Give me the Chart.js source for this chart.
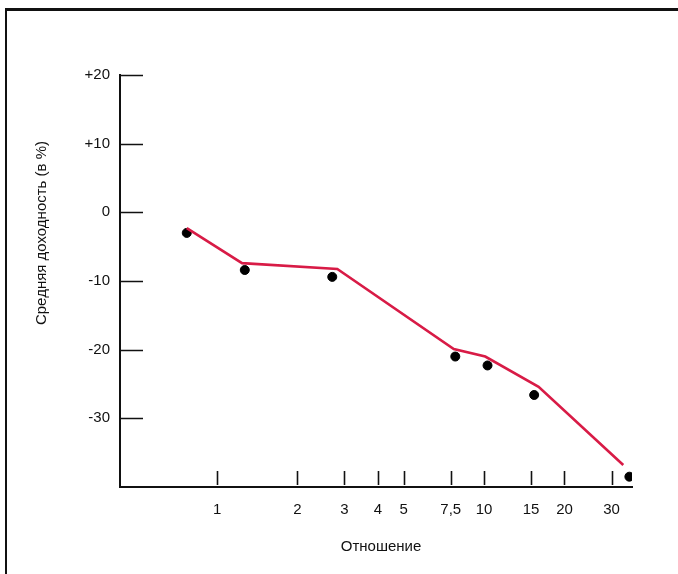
<!DOCTYPE html>
<html>
<head>
<meta charset="utf-8">
<script src="https://cdn.jsdelivr.net/npm/chart.js@4"></script>
<style>
    body { margin: 0; background: #fff; }
    #wrap { position: relative; width: 678px; height: 574px; overflow: hidden; }
    /* page frame: only top and left edges are inside the window */
    #frame { position: absolute; left: 5px; top: 8px; width: 700px; height: 600px;
             border-top: 3px solid #111; border-left: 2px solid #111; }
    #myChart { position: absolute; left: 0; top: 0; }
</style>
</head>
<body>
<div id="wrap">
    <div id="frame"></div>
    <canvas id="myChart" width="678" height="574"></canvas>
</div>
<script>
// observed points
var ratioDots = [0.77, 1.27, 2.7, 7.8, 10.3, 15.4, 35];
var returnDots = [-3.0, -8.4, -9.4, -21.0, -22.3, -26.6, -38.5];

// fitted broken line
var ratioLine = [0.77, 1.24, 2.82, 7.7, 10.1, 16, 33.2];
var returnLine = [-2.3, -7.4, -8.25, -19.9, -21.0, -25.4, -36.8];

// axis ticks
var tickRatios = [1, 2, 3, 4, 5, 7.5, 10, 15, 20, 30];
var tickReturns = [-30, -20, -10, 0, 10, 20];

var FONT = "'Liberation Sans', Arial, sans-serif";
var INK = '#111';

var toPoints = function (xs, ys) {
    return xs.map(function (x, i) { return {x: x, y: ys[i]}; });
};

// tick marks inside the axes and the two axis titles
var axisDecor = {
    id: 'axisDecor',
    beforeDatasetsDraw: function (chart) {
        var ctx = chart.ctx;
        var area = chart.chartArea;
        var xs = chart.scales.x, ys = chart.scales.y;
        ctx.save();
        ctx.strokeStyle = INK;
        ctx.lineWidth = 1.6;
        ctx.beginPath();
        tickReturns.forEach(function (v) {
            var py = Math.round(ys.getPixelForValue(v)) + 0.5;
            ctx.moveTo(area.left, py);
            ctx.lineTo(area.left + 23, py);
        });
        tickRatios.forEach(function (v) {
            var px = Math.round(xs.getPixelForValue(v)) + 0.5;
            ctx.moveTo(px, area.bottom - 16);
            ctx.lineTo(px, area.bottom - 2);
        });
        ctx.stroke();

        ctx.fillStyle = INK;
        ctx.font = '15px ' + FONT;
        ctx.textAlign = 'center';
        ctx.textBaseline = 'middle';
        ctx.fillText('Отношение', 381, 547);
        ctx.translate(42, 233);
        ctx.rotate(-Math.PI / 2);
        ctx.fillText('Средняя доходность (в %)', 0, 0);
        ctx.restore();
    }
};

var ctx = document.getElementById('myChart').getContext('2d');

new Chart(ctx, {
    type: 'scatter',
    data: {
        datasets: [
            {
                data: toPoints(ratioLine, returnLine),
                showLine: true,
                borderColor: '#d81b46',
                borderWidth: 2.6,
                pointRadius: 0,
                tension: 0
            },
            {
                data: toPoints(ratioDots, returnDots),
                backgroundColor: '#000',
                borderColor: '#000',
                pointRadius: 4.5,
                pointHoverRadius: 4.5
            }
        ]
    },
    options: {
        responsive: false,
        animation: false,
        devicePixelRatio: 1,
        layout: { padding: { left: 0, top: 75, right: 46, bottom: 0 } },
        plugins: {
            legend: { display: false },
            tooltip: { enabled: false }
        },
        scales: {
            x: {
                type: 'logarithmic',
                min: 0.433,
                max: 35.8,
                bounds: 'data',
                grid: { display: false },
                border: { display: true, color: INK, width: 2 },
                afterBuildTicks: function (scale) {
                    scale.ticks = tickRatios.map(function (v) { return {value: v}; });
                },
                afterFit: function (scale) { scale.height = 87; },
                ticks: {
                    color: INK,
                    padding: 6,
                    maxRotation: 0,
                    autoSkip: false,
                    font: { family: FONT, size: 15 },
                    callback: function (value) { return String(value).replace('.', ','); }
                }
            },
            y: {
                min: -40,
                max: 20,
                bounds: 'data',
                grid: { display: false },
                border: { display: true, color: INK, width: 2 },
                afterBuildTicks: function (scale) {
                    scale.ticks = tickReturns.map(function (v) { return {value: v}; });
                },
                afterFit: function (scale) { scale.width = 120; },
                ticks: {
                    color: INK,
                    padding: 2,
                    font: { family: FONT, size: 15 },
                    callback: function (value) { return value > 0 ? '+' + value : String(value); }
                }
            }
        }
    },
    plugins: [axisDecor]
});
</script>
</body>
</html>
